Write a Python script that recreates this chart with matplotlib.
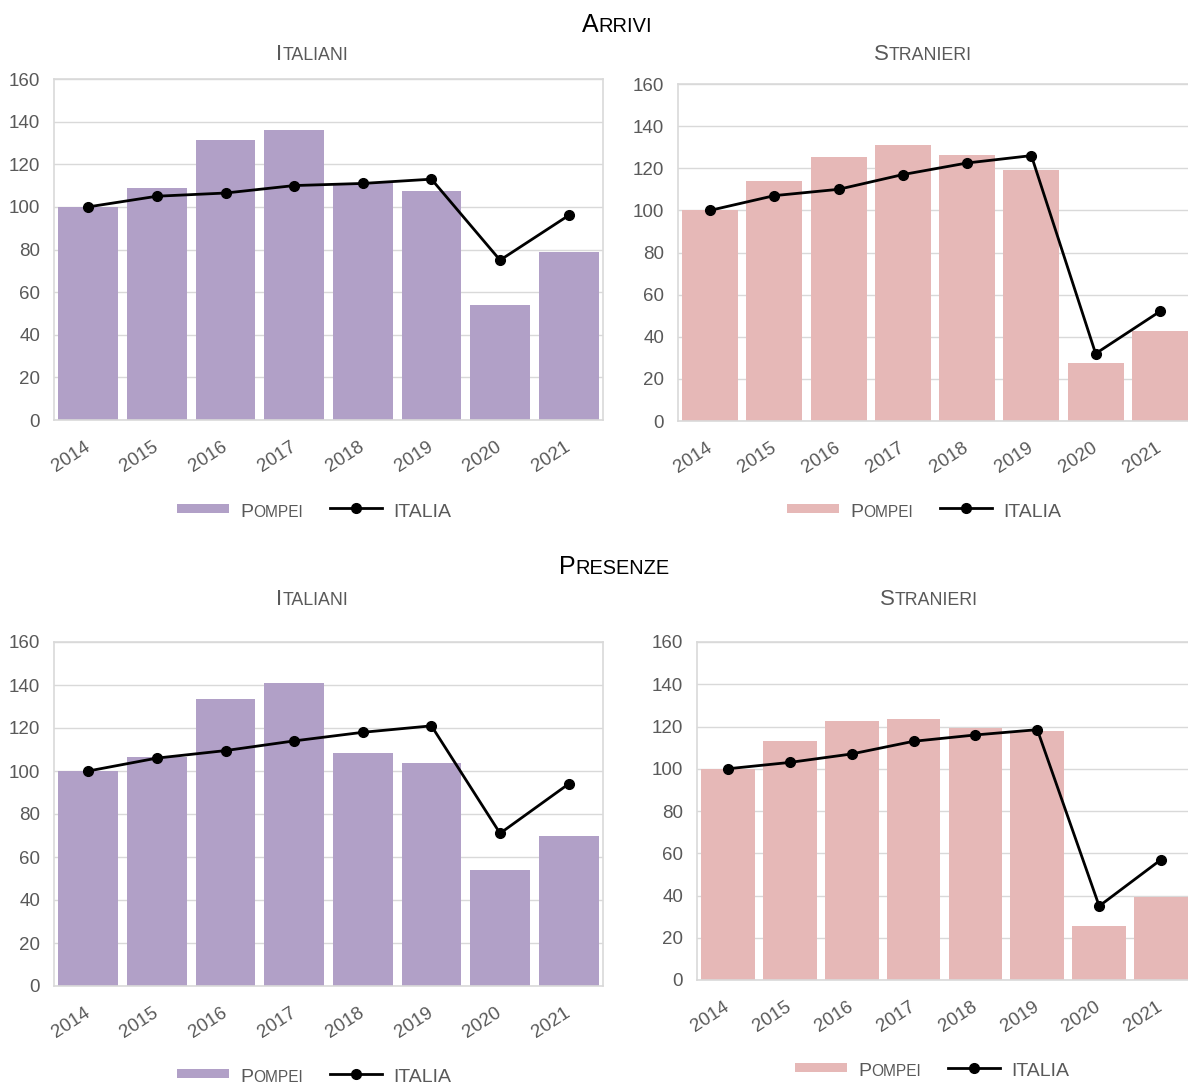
import matplotlib
matplotlib.use("Agg")
import matplotlib.pyplot as plt
from matplotlib.patches import Rectangle
from matplotlib.lines import Line2D
import numpy as np

plt.rcParams['font.family'] = ['Liberation Sans', 'DejaVu Sans']

years = ['2014', '2015', '2016', '2017', '2018', '2019', '2020', '2021']

# Arrivi
arr_ita_pompei = [100, 109, 131.5, 136, 111, 107.5, 54, 79]
arr_ita_italia = [100, 105, 106.5, 110, 111, 113, 75, 96]
arr_str_pompei = [100, 114, 125.5, 131, 126.5, 119, 27.5, 42.5]
arr_str_italia = [100, 107, 110, 117, 122.5, 126, 32, 52]

# Presenze
pre_ita_pompei = [100, 106.5, 133.5, 141, 108.5, 103.5, 54, 70]
pre_ita_italia = [100, 106, 109.5, 114, 118, 121, 71, 94]
pre_str_pompei = [100, 113, 122.5, 123.5, 119.5, 118, 25.5, 39.5]
pre_str_italia = [100, 103, 107, 113, 116, 118.5, 35, 57]

PURPLE = '#b1a0c7'
PINK = '#e6b8b7'
GRID = '#d9d9d9'
TXT = '#595959'

W, H = 1188, 1084
fig = plt.figure(figsize=(W / 100, H / 100), dpi=100)
renderer = fig.canvas.get_renderer()


def px_axes(left, top, right, bottom):
    return fig.add_axes([left / W, 1 - bottom / H, (right - left) / W, (bottom - top) / H])


def smallcaps(x, y, word, size, color, ha='center'):
    # first letter full size, the rest as reduced capitals
    t1 = fig.text(0, 0, word[0], fontsize=size, color=color, va='baseline')
    t2 = fig.text(0, 0, word[1:].upper(), fontsize=size * 0.8, color=color, va='baseline')
    w1 = t1.get_window_extent(renderer).width
    w2 = t2.get_window_extent(renderer).width
    start = x - (w1 + w2) / 2 if ha == 'center' else x
    t1.set_position((start / W, 1 - y / H))
    t2.set_position(((start + w1) / W, 1 - y / H))


def legend(x0, base, color):
    yc = base - 8.5
    fig.add_artist(Rectangle((x0 / W, 1 - (yc + 4.5) / H), 52 / W, 9 / H,
                             transform=fig.transFigure, color=color, lw=0))
    smallcaps(x0 + 63, base, 'Pompei', 14, TXT, ha='left')
    fig.add_artist(Line2D([(x0 + 153) / W, (x0 + 205) / W], [1 - yc / H, 1 - yc / H],
                          transform=fig.transFigure, color='black', lw=2))
    fig.add_artist(Line2D([(x0 + 179) / W], [1 - yc / H], transform=fig.transFigure,
                          color='black', marker='o', markersize=7))
    fig.text((x0 + 216) / W, 1 - base / H, 'ITALIA', fontsize=14, color=TXT, va='baseline')


def panel(ax, bars, line, color):
    x = np.arange(len(years))
    ax.bar(x, bars, width=0.87, color=color, zorder=2)
    ax.plot(x, line, color='black', lw=2, marker='o', markersize=7, zorder=3)
    ax.set_xlim(-0.5, len(years) - 0.5)
    ax.set_ylim(0, 160)
    ax.set_yticks(range(0, 161, 20))
    ax.set_xticks(x)
    ax.set_xticklabels(years, rotation=33, ha='right', va='center', rotation_mode='anchor')
    ax.tick_params(axis='both', length=0, labelsize=13.5, labelcolor=TXT)
    ax.tick_params(axis='x', pad=18)
    ax.tick_params(axis='y', pad=10)
    ax.grid(axis='y', color=GRID, lw=1, zorder=0)
    ax.set_axisbelow(True)
    for s in ax.spines.values():
        s.set_color(GRID)
        s.set_linewidth(1.2)


ax1 = px_axes(54, 79, 603, 420)
panel(ax1, arr_ita_pompei, arr_ita_italia, PURPLE)
ax2 = px_axes(678, 84, 1192, 421)
panel(ax2, arr_str_pompei, arr_str_italia, PINK)
ax3 = px_axes(54, 642, 603, 986)
panel(ax3, pre_ita_pompei, pre_ita_italia, PURPLE)
ax4 = px_axes(697, 642, 1192, 980)
panel(ax4, pre_str_pompei, pre_str_italia, PINK)

smallcaps(617, 32, 'Arrivi', 18, 'black')
smallcaps(312, 60, 'Italiani', 16, TXT)
smallcaps(923, 60, 'Stranieri', 16, TXT)
smallcaps(614, 574, 'Presenze', 18, 'black')
smallcaps(312, 605, 'Italiani', 16, TXT)
smallcaps(929, 605, 'Stranieri', 16, TXT)

legend(177, 517, PURPLE)
legend(787, 517, PINK)
legend(177, 1082, PURPLE)
legend(795, 1076, PINK)

fig.savefig('out.png', dpi=100)
